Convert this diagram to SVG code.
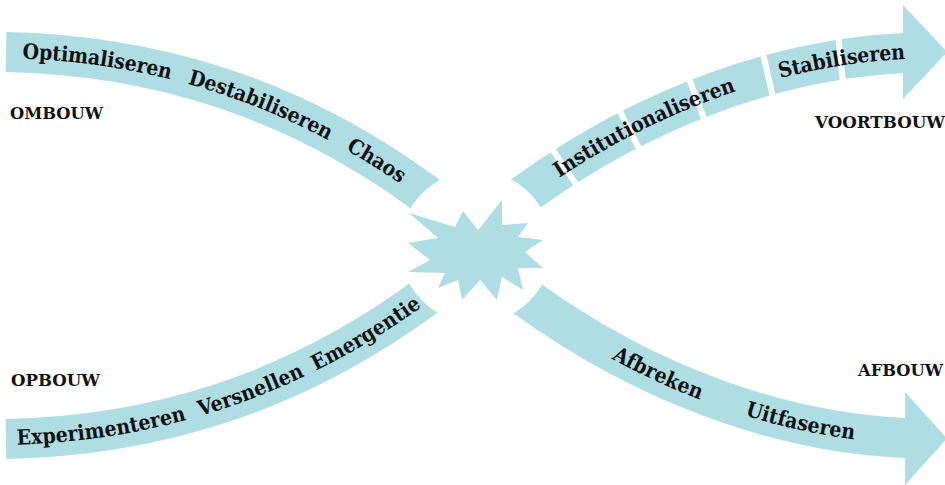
<svg xmlns="http://www.w3.org/2000/svg" xmlns:xlink="http://www.w3.org/1999/xlink" width="945" height="485" viewBox="0 0 945 485">
<style>
.band{fill:none;stroke:#aedde3;stroke-width:40;stroke-linecap:butt}
.head{fill:#aedde3}
.t{font-family:"DejaVu Serif","Liberation Serif",serif;font-weight:bold;font-stretch:condensed;font-size:21px;fill:#111}
.lab{font-family:"DejaVu Serif","Liberation Serif",serif;font-weight:bold;font-size:16px;fill:#111}
</style>
<defs>
<path id="p1" d="M6,52 C150,55 290,95 425,194 L441,206"/>
<path id="p2" d="M6,439 C150,436 290,396 425,297 L441,285"/>
<path id="p3" d="M509,206 L525,194 C655,100 790,58 906,53"/>
<path id="p4" d="M509,285 L525,297 C655,391 790,433 906,438"/>
<mask id="hole" maskUnits="userSpaceOnUse" x="0" y="0" width="945" height="485">
<rect width="945" height="485" fill="#fff"/>
<circle cx="476" cy="247" r="76" fill="#000"/>
</mask>
<mask id="hole3" maskUnits="userSpaceOnUse" x="0" y="0" width="945" height="485">
<rect width="945" height="485" fill="#fff"/>
<circle cx="476" cy="247" r="76" fill="#000"/>
<g stroke="#000" stroke-width="6">
<line x1="549.4" y1="144.8" x2="580.6" y2="191.2"/>
<line x1="615.4" y1="102.6" x2="641" y2="152.4"/>
<line x1="685.6" y1="69.3" x2="705.2" y2="121.7"/>
<line x1="761.2" y1="45.6" x2="773.6" y2="100.2"/>
<line x1="837.9" y1="31.8" x2="843.5" y2="87.6"/>
</g>
</mask>
</defs>
<g id="connectors">
<g id="ombouw-band">
<use xlink:href="#p1" class="band" mask="url(#hole)"/>
</g>
<g id="opbouw-band">
<use xlink:href="#p2" class="band" mask="url(#hole)"/>
</g>
<g id="voortbouw-band">
<use xlink:href="#p3" class="band" mask="url(#hole3)"/>
<polygon class="head" points="903,5 947,52 903,99"/>
</g>
<g id="afbouw-band">
<use xlink:href="#p4" class="band" mask="url(#hole)"/>
<polygon class="head" points="905,392 947,438.5 905,485"/>
</g>
</g>
<g id="star">
<polygon class="head" points="409,213 455,227 463,211 478,230 502,200 502,225 528,223 518,237 543,240 525,252 543,268 518,268 523,290 502,277 497,300 480,280 462,300 458,280 438,288 445,273 408,272 430,260 408,243 438,238"/>
</g>
<g id="ombouw">
<text class="t" dy="6"><textPath xlink:href="#p1" startOffset="92" text-anchor="middle">Optimaliseren</textPath></text>
<text class="t" dy="6"><textPath xlink:href="#p1" startOffset="262" text-anchor="middle">Destabiliseren</textPath></text>
<text class="t" dy="6"><textPath xlink:href="#p1" startOffset="391" text-anchor="middle">Chaos</textPath></text>
<text class="lab" x="10" y="119" textLength="93" lengthAdjust="spacingAndGlyphs">OMBOUW</text>
</g>
<g id="opbouw">
<text class="t" dy="6"><textPath xlink:href="#p2" startOffset="96" text-anchor="middle">Experimenteren</textPath></text>
<text class="t" dy="6"><textPath xlink:href="#p2" startOffset="251" text-anchor="middle">Versnellen</textPath></text>
<text class="t" dy="6"><textPath xlink:href="#p2" startOffset="380" text-anchor="middle">Emergentie</textPath></text>
<text class="lab" x="11" y="386" textLength="89" lengthAdjust="spacingAndGlyphs">OPBOUW</text>
</g>
<g id="voortbouw">
<text class="t" dy="6"><textPath xlink:href="#p3" startOffset="157" text-anchor="middle">Institutionaliseren</textPath></text>
<text class="t" dy="6"><textPath xlink:href="#p3" startOffset="367" text-anchor="middle">Stabiliseren</textPath></text>
<text class="lab" x="815" y="128" textLength="130" lengthAdjust="spacingAndGlyphs">VOORTBOUW</text>
</g>
<g id="afbouw">
<text class="t" dy="6"><textPath xlink:href="#p4" startOffset="174" text-anchor="middle">Afbreken</textPath></text>
<text class="t" dy="6"><textPath xlink:href="#p4" startOffset="325" text-anchor="middle">Uitfaseren</textPath></text>
<text class="lab" x="858" y="376" textLength="85" lengthAdjust="spacingAndGlyphs">AFBOUW</text>
</g>
</svg>
